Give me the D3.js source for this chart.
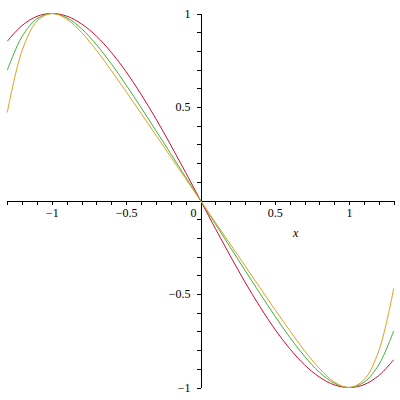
<!DOCTYPE html>
<html lang="en">
<head>
    <meta charset="UTF-8">
    <title>Three curves</title>
    <script src="https://d3js.org/d3.v7.min.js"></script>
    <style>
        body { margin: 0; background: #fff; }
        svg { display: block; }
        .axis path, .axis line {
            fill: none;
            stroke: #000;
            shape-rendering: crispEdges;
        }
        .axis text, .lbl {
            font-family: "Liberation Serif", "Times New Roman", serif;
            font-size: 12px;
            fill: #000;
        }
        .curve { fill: none; stroke-width: 1; }
    </style>
</head>
<body>
    <div id="chart"></div>

    <script>
        // sample points
        var xs = [-1.3, -1.2, -1.1, -1.0, -0.9, -0.8, -0.7, -0.6, -0.5, -0.4, -0.3, -0.2, -0.1, 0,
                  0.1, 0.2, 0.3, 0.4, 0.5, 0.6, 0.7, 0.8, 0.9, 1.0, 1.1, 1.2, 1.3];
        var redY = [0.852, 0.936, 0.985, 1, 0.986, 0.944, 0.879, 0.792, 0.688, 0.568, 0.437, 0.296, 0.150, 0,
                    -0.150, -0.296, -0.437, -0.568, -0.688, -0.792, -0.879, -0.944, -0.986, -1, -0.985, -0.936, -0.852];
        var greenY = [0.697, 0.878, 0.972, 1, 0.977, 0.918, 0.833, 0.731, 0.617, 0.497, 0.374, 0.250, 0.125, 0,
                      -0.125, -0.250, -0.374, -0.497, -0.617, -0.731, -0.833, -0.918, -0.977, -1, -0.972, -0.878, -0.697];
        var orangeY = [0.471, 0.803, 0.959, 1, 0.970, 0.898, 0.803, 0.695, 0.582, 0.466, 0.350, 0.233, 0.117, 0,
                       -0.117, -0.233, -0.350, -0.466, -0.582, -0.695, -0.803, -0.898, -0.970, -1, -0.959, -0.803, -0.471];

        var xTicks = [-1.3, -1.2, -1.1, -1, -0.9, -0.8, -0.7, -0.6, -0.5, -0.4, -0.3, -0.2, -0.1,
                      0.1, 0.2, 0.3, 0.4, 0.5, 0.6, 0.7, 0.8, 0.9, 1, 1.1, 1.2, 1.3];
        var yTicks = [-1, -0.9, -0.8, -0.7, -0.6, -0.5, -0.4, -0.3, -0.2, -0.1,
                      0.1, 0.2, 0.3, 0.4, 0.5, 0.6, 0.7, 0.8, 0.9, 1];
        var xLabels = [-1, -0.5, 0.5, 1];
        var yLabels = [-1, -0.5, 0.5, 1];

        var series = [
            { values: redY, color: "#d40a2e" },
            { values: greenY, color: "#3cb43c" },
            { values: orangeY, color: "#e0a020" }
        ];

        var width = 400, height = 400;

        var svg = d3.select("#chart").append("svg")
                    .attr("width", width)
                    .attr("height", height);

        var xScale = d3.scaleLinear()
                       .domain([-1.3, 1.3])
                       .range([7.3, 393.7]);

        var yScale = d3.scaleLinear()
                       .domain([-1, 1])
                       .range([387.5, 13.5]);

        var fmt = function(d) {
            return xLabels.indexOf(d) >= 0 ? d3.format("")(d) : "";
        };

        svg.append("g")
           .attr("class", "axis")
           .attr("transform", "translate(0," + yScale(0) + ")")
           .call(d3.axisBottom(xScale).tickValues(xTicks).tickSize(4).tickSizeOuter(0)
                 .tickPadding(4).tickFormat(fmt));

        svg.append("g")
           .attr("class", "axis")
           .attr("transform", "translate(" + xScale(0) + ",0)")
           .call(d3.axisLeft(yScale).tickValues(yTicks).tickSize(4).tickSizeOuter(0)
                 .tickPadding(6).tickFormat(function(d) {
                     return yLabels.indexOf(d) >= 0 ? d3.format("")(d) : "";
                 }));

        svg.selectAll(".axis text").attr("font-family", null).attr("font-size", null);

        // origin label sits left of the vertical axis
        svg.append("text")
           .attr("class", "lbl")
           .attr("x", xScale(0) - 4)
           .attr("y", yScale(0) + 16)
           .attr("text-anchor", "end")
           .text("0");

        svg.append("text")
           .attr("class", "lbl")
           .attr("x", xScale(0.64))
           .attr("y", yScale(0) + 36)
           .attr("text-anchor", "middle")
           .style("font-style", "italic")
           .text("x");

        var line = d3.line()
                     .x(function(d, i) { return xScale(xs[i]); })
                     .y(function(d) { return yScale(d); })
                     .curve(d3.curveCatmullRom);

        svg.selectAll(".curve")
           .data(series)
           .enter().append("path")
           .attr("class", "curve")
           .attr("stroke", function(d) { return d.color; })
           .attr("d", function(d) { return line(d.values); });
    </script>
</body>
</html>
